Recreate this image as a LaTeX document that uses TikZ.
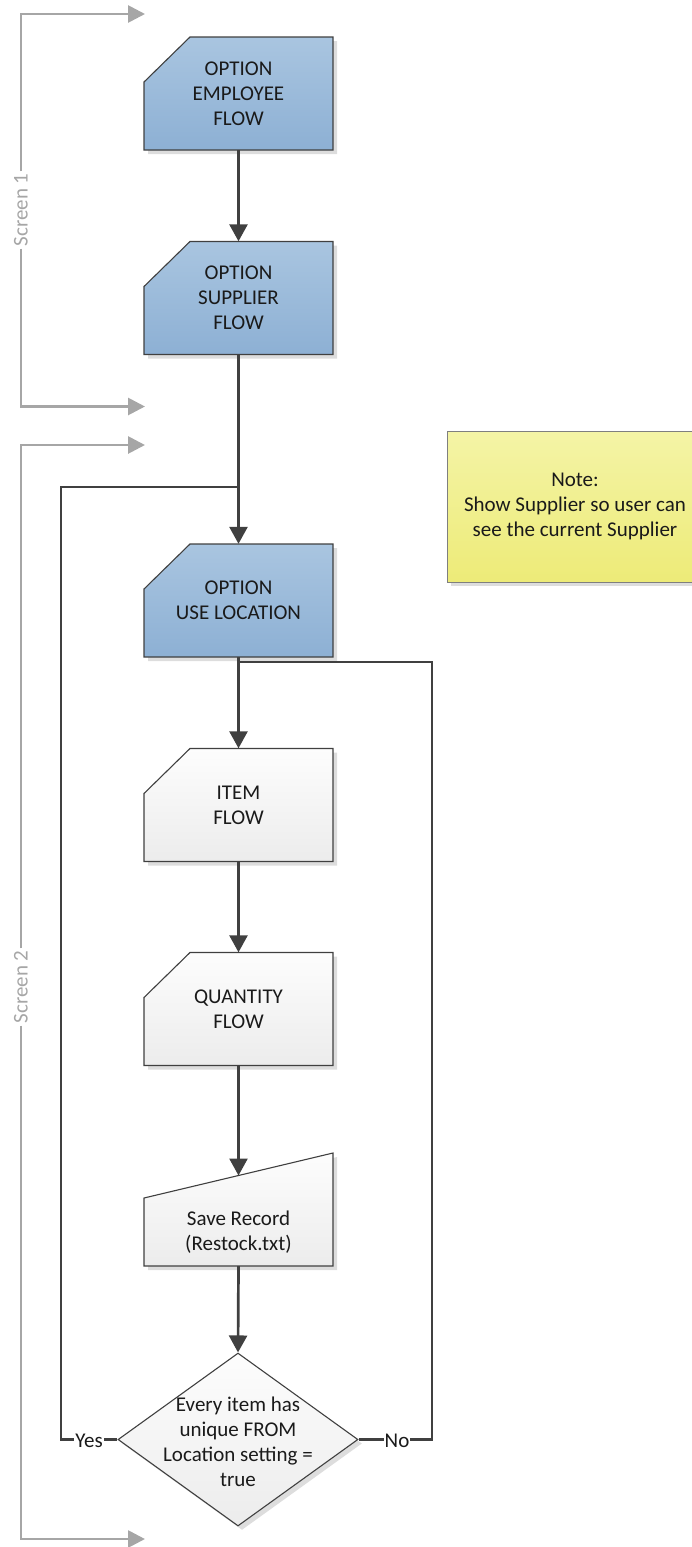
\documentclass[tikz,border=0pt]{standalone}
\usepackage{fontspec}
\setmainfont{Carlito}
\usetikzlibrary{arrows.meta,shapes.geometric,shadows}
\definecolor{bluetop}{HTML}{A9C5E0}
\definecolor{bluebot}{HTML}{8DB0D4}
\definecolor{greytop}{HTML}{FDFDFD}
\definecolor{greybot}{HTML}{ECECEC}
\definecolor{notetop}{HTML}{F4F4A6}
\definecolor{notebot}{HTML}{EDEB78}
\definecolor{edge}{HTML}{404040}
\definecolor{brk}{HTML}{A6A6A6}
\definecolor{txt}{HTML}{1A1A1A}
\definecolor{shd}{HTML}{DDDDDD}
\definecolor{noteedge}{HTML}{7F7F7F}
% #1 name, #2 cx, #3 cy, #4 fill style, #5 text
\newcommand\cutbox[5]{%
  \fill[shd] ({#2-90.5},{#3+60.5}) -- ({#2-90.5},{#3-7.5}) -- ({#2-44.5},{#3-52.5})
     -- ({#2+98.5},{#3-52.5}) -- ({#2+98.5},{#3+60.5}) -- cycle;
  \path[boxline,#4] ({#2-94.5},{#3+56.5}) -- ({#2-94.5},{#3-11.5}) -- ({#2-48.5},{#3-56.5})
     -- ({#2+94.5},{#3-56.5}) -- ({#2+94.5},{#3+56.5}) -- cycle;
  \node[boxtext] (#1) at (#2,#3) {#5};}
\begin{document}
\begin{tikzpicture}[x=1pt,y=-1pt,
 font=\fontsize{21}{25}\selectfont,
 boxline/.style={draw=edge, line width=1.1pt},
 boxtext/.style={text=txt, align=center, inner sep=0pt, minimum width=189pt, minimum height=113pt},
 bluefill/.style={top color=bluetop, bottom color=bluebot},
 greyfill/.style={top color=greytop, bottom color=greybot},
 shad/.style={drop shadow={fill=shd, opacity=1, shadow xshift=4pt, shadow yshift=-4pt}},
 flow/.style={draw=edge, line width=2.7pt, -{Triangle[length=17pt,width=18pt]}},
 loopline/.style={draw=edge, line width=2.8pt},
 brack/.style={draw=brk, line width=2.8pt, -{Triangle[length=17pt,width=17pt]}},
 scr/.style={text=brk, rotate=90, inner sep=2pt},
 lbl/.style={fill=white, inner sep=1pt, text=txt},
]
\useasboundingbox (0,0) rectangle (692,1547);

% boxes
\cutbox{b1}{238.5}{93.5}{bluefill}{OPTION\\EMPLOYEE\\FLOW}
\cutbox{b2}{238.5}{298}{bluefill}{OPTION\\SUPPLIER\\FLOW}
\cutbox{b3}{238.5}{600.5}{bluefill}{OPTION\\USE LOCATION}
\cutbox{b4}{238.5}{805}{greyfill}{ITEM\\FLOW}
\cutbox{b5}{238.5}{1009}{greyfill}{QUANTITY\\FLOW}

% manual input box
\path[fill=shd] (148,1270) -- (148,1202) -- (337,1157) -- (337,1270) -- cycle;
\path[boxline, greyfill] (144,1266) -- (144,1198) -- (333,1153) -- (333,1266) -- cycle;
\node[boxtext, minimum height=68pt] (b6) at (238.5,1232) {Save Record\\(Restock.txt)};
\coordinate (b6top) at (238.5,1175.5);

% decision
\node[diamond, boxline, greyfill, shad,
  minimum width=240pt, minimum height=173pt, inner sep=0pt] (dec) at (238,1439.5) {};
\node[text=txt, align=center, inner sep=0pt] (dect) at (238,1442) {Every item has\\unique FROM\\Location setting =\\true};

% note
\node[draw=noteedge, line width=1pt, top color=notetop, bottom color=notebot, shad,
  minimum width=256pt, minimum height=151pt, align=center, text=txt] (note) at (575,506.5)
  {Note:\\Show Supplier so user can\\see the current Supplier};

% flow connectors
\draw[flow] (b1.south) -- (b2.north);
\draw[flow] (b2.south) -- (b3.north);
\draw[flow] (b3.south) -- (b4.north);
\draw[flow] (b4.south) -- (b5.north);
\draw[flow] (b5.south) -- (b6top);
\draw[flow] (b6.south) -- (dec.north);

% loops
\coordinate (yescorner) at (61,487);
\coordinate (yesjoin) at (238.5,487);
\draw[loopline] (dec.west) -| (yescorner) -- (yesjoin);
\node[lbl] (yes) at (89,1441) {Yes};
\coordinate (nocorner) at (432,662);
\coordinate (nojoin) at (238.5,662);
\draw[loopline] (dec.east) -| (nocorner) -- (nojoin);
\node[lbl] (no) at (397,1441) {No};

% screen brackets
\node[scr] (s1) at (21,210) {Screen 1};
\coordinate (s1top) at (145,14);
\coordinate (s1bot) at (145,406.5);
\draw[brack] (s1.east) |- (s1top);
\draw[brack] (s1.west) |- (s1bot);
\node[scr] (s2) at (21,987) {Screen 2};
\coordinate (s2top) at (145,445);
\coordinate (s2bot) at (145,1539);
\draw[brack] (s2.east) |- (s2top);
\draw[brack] (s2.west) |- (s2bot);
\end{tikzpicture}
\end{document}
